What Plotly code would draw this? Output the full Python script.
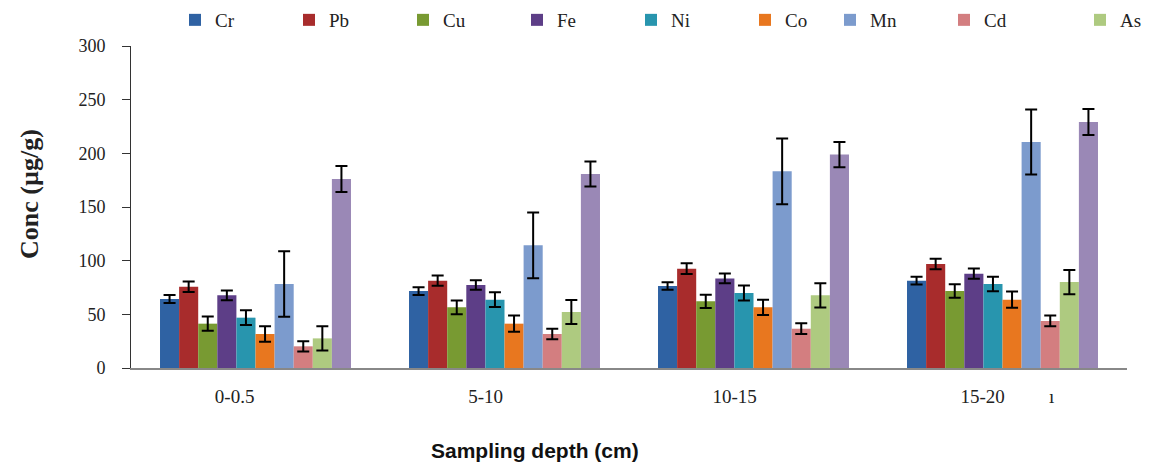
import plotly.graph_objects as go

depths = ["0-0.5", "5-10", "10-15", "15-20"]
group_pos = [0, 1, 2, 3]
tick_pos = [-0.084, 0.924, 1.924, 2.920, 3.197]
tick_text = ["0-0.5", "5-10", "10-15", "15-20", "ı"]

metals = ["Cr", "Pb", "Cu", "Fe", "Ni", "Co", "Mn", "Cd", "As", "Zn"]
show_in_legend = [True, True, True, True, True, True, True, True, True, False]
legend_group = ["legend", "legend", "legend", "legend", "legend", "legend",
                "legend2", "legend2", "legend3", "legend3"]
colors = ["#2F62A3", "#A82C2C", "#789A32", "#5D3E87", "#2895AE",
          "#E8771F", "#7C9BCD", "#D37E80", "#AECA80", "#9A88B6"]

Cr = [64.3, 71.7, 76.4, 81.4]
Pb = [75.7, 81.4, 92.5, 96.9]
Cu = [41.3, 56.5, 62.1, 71.7]
Fe = [67.7, 77.3, 83.5, 87.9]
Ni = [46.9, 63.7, 69.9, 78.3]
Co = [31.7, 41.3, 56.5, 63.7]
Mn = [78.3, 114.3, 183.2, 210.6]
Cd = [20.2, 31.7, 36.6, 43.8]
As = [27.6, 52.2, 67.7, 80.1]
Zn = [176.1, 180.8, 198.8, 229.2]

Cr_err = [3.7, 3.6, 3.6, 3.7]
Pb_err = [5.0, 4.8, 5.0, 4.8]
Cu_err = [6.7, 6.5, 6.2, 6.3]
Fe_err = [4.5, 4.5, 4.5, 4.7]
Ni_err = [6.8, 6.8, 7.0, 6.8]
Co_err = [7.2, 7.5, 7.1, 7.6]
Mn_err = [30.5, 30.6, 30.6, 30.3]
Cd_err = [4.8, 4.8, 5.0, 5.0]
As_err = [11.3, 11.2, 11.3, 11.3]
Zn_err = [12.2, 11.6, 11.8, 12.1]

values = [Cr, Pb, Cu, Fe, Ni, Co, Mn, Cd, As, Zn]
errors = [Cr_err, Pb_err, Cu_err, Fe_err, Ni_err, Co_err, Mn_err, Cd_err, As_err, Zn_err]

fig = go.Figure()
for name, vals, errs, col, sl, lg in zip(metals, values, errors, colors,
                                         show_in_legend, legend_group):
    fig.add_trace(go.Bar(
        name=name, x=group_pos, y=vals, marker_color=col,
        marker_line_width=0, showlegend=sl, legend=lg,
        error_y=dict(type="data", array=errs, visible=True,
                     color="black", thickness=2, width=6),
    ))

serif = "Liberation Serif"
# the page body has an 8px margin: figure sits at (8, 8) in the window
OFF = 8
FIG_W, FIG_H = 1163 - OFF, 463 - OFF
L, R, T, B = 131 - OFF, 36, 46 - OFF, 95
W_PLOT = FIG_W - L - R
H_PLOT = FIG_H - T - B

def px_x(x):  # window pixel -> paper x
    return (x - 131) / W_PLOT

def px_y(y):  # window pixel -> paper y
    return (368 - y) / H_PLOT

def legend_style(entry_w):
    return dict(orientation="h", xanchor="left", yanchor="top",
                entrywidth=entry_w, entrywidthmode="pixels",
                font=dict(family=serif, size=19, color="#222"),
                traceorder="normal", bgcolor="rgba(0,0,0,0)")

fig.update_layout(
    width=FIG_W, height=FIG_H,
    margin=dict(l=L, r=R, t=T, b=B, autoexpand=False),
    paper_bgcolor="white", plot_bgcolor="white",
    barmode="group", bargap=0.233, bargroupgap=0,
    font=dict(family=serif, size=18, color="#222"),
    legend=dict(x=px_x(175), y=px_y(1), **legend_style(69)),
    legend2=dict(x=px_x(830), y=px_y(1), **legend_style(69)),
    legend3=dict(x=px_x(1080), y=px_y(1), **legend_style(24)),
    xaxis=dict(range=[-0.5, 3.5], tickmode="array", tickvals=tick_pos,
               ticktext=tick_text, showgrid=False, zeroline=False,
               showline=True, linecolor="#888", linewidth=1.5,
               ticks="", ticklabelstandoff=10,
               tickfont=dict(family=serif, size=19, color="#222")),
    yaxis=dict(range=[0, 300], tickvals=[0, 50, 100, 150, 200, 250, 300],
               showgrid=False, zeroline=False, showline=True,
               linecolor="#333", linewidth=1, ticks="outside", ticklen=8,
               tickcolor="#333", ticklabelstandoff=13,
               tickfont=dict(family=serif, size=18, color="#222")),
    annotations=[
        dict(text="<b>Sampling depth (cm)</b>", x=px_x(535), y=px_y(450),
             xref="paper", yref="paper", showarrow=False,
             xanchor="center", yanchor="middle",
             font=dict(family="Liberation Sans", size=21, color="#111")),
        dict(text="<b>Conc (µg/g)</b>", x=px_x(29), y=px_y(194),
             xref="paper", yref="paper", showarrow=False, textangle=-90,
             xanchor="center", yanchor="middle",
             font=dict(family=serif, size=26, color="#222")),
    ],
)

fig.write_html("out.html")
